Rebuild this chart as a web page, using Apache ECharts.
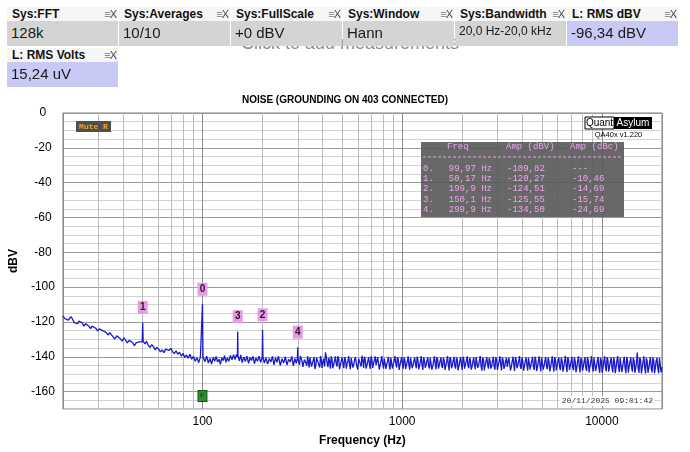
<!DOCTYPE html>
<html>
<head>
<meta charset="utf-8">
<script src="https://cdn.jsdelivr.net/npm/echarts@6/dist/echarts.min.js"></script>
<style>
  html, body { margin:0; padding:0; background:#fff; }
  #wrap { position:relative; width:690px; height:452px; overflow:hidden; font-family:"Liberation Sans", Arial, sans-serif; }
  #chart { position:absolute; left:0; top:0; width:690px; height:452px; }
  .ghost { position:absolute; left:241px; top:33px; font-size:18px; color:#8c8c8c; white-space:nowrap; z-index:2; }
  .box { position:absolute; width:111px; z-index:3; }
  .bt { height:14px; background:#f6f6f6; font-weight:bold; font-size:12px; line-height:15px; padding-left:5px; color:#111; position:relative; }
  .bt .ic { position:absolute; right:2px; top:0; font-size:11px; font-weight:normal; color:#777; letter-spacing:-1px; }
  .bt .ic b { color:#444; font-weight:normal; }
  .bv { height:25px; background:#d4d4d4; font-size:15px; line-height:24px; padding-left:4px; color:#1a1a1a; white-space:nowrap; overflow:hidden; }
  .bv.ch { background:#c9c9f6; }
  .bv.small { font-size:12px; line-height:21px; }
</style>
</head>
<body>
<div id="wrap">
  <div id="chart"></div>
  <div class="ghost">Click to add measurements</div>
</div>
<script>
// ---------- data ----------
const measTitles = ['Sys:FFT', 'Sys:Averages', 'Sys:FullScale', 'Sys:Window', 'Sys:Bandwidth', 'L: RMS dBV', 'L: RMS Volts'];
const measValues = ['128k', '10/10', '+0 dBV', 'Hann', '20,0 Hz-20,0 kHz', '-96,34 dBV', '15,24 uV'];
const measKinds  = ['sys', 'sys', 'sys', 'sys', 'sys', 'ch', 'ch'];

const chartTitle = 'NOISE (GROUNDING ON 403 CONNECTED)';
const xTickLabels = [100, 1000, 10000];

// harmonic markers (table)
const markerIds  = ['0', '1', '2', '3', '4'];
const markerFreq = [99.97, 50.17, 199.9, 150.1, 299.9];
const markerAmp  = [-109.82, -120.27, -124.51, -125.55, -134.50];
const markerDbc  = [null, -10.46, -14.69, -15.74, -24.69];

const timestamp = '20/11/2025 09:01:42';

// noise floor [Hz, dBV]
const noiseFloor = [
 [20.0,-116.5],[20.4,-118.0],[20.8,-117.2],[21.2,-119.0],[21.6,-118.2],[22.0,-117.0],[22.4,-118.6],[22.8,-120.4],
 [23.2,-119.3],[23.7,-121.0],[24.1,-119.5],[24.6,-118.8],[25.0,-120.6],[25.5,-122.4],[26.0,-121.0],[26.5,-120.2],
 [27.0,-122.5],[27.5,-123.8],[28.0,-122.4],[28.6,-121.6],[29.2,-123.6],[29.8,-125.2],[30.4,-124.0],[31.0,-123.5],
 [31.6,-125.0],[32.2,-124.2],[32.9,-126.0],[33.6,-127.5],[34.3,-126.2],[35.0,-125.8],[35.7,-128.6],[36.4,-129.8],
 [37.2,-128.0],[38.0,-127.6],[38.8,-129.6],[39.6,-131.0],[40.4,-129.2],[41.2,-130.4],[42.0,-132.0],[42.9,-130.6],
 [43.8,-129.8],[44.7,-131.8],[45.6,-133.6],[46.5,-132.0],[47.4,-133.0],[48.3,-131.4],[49.2,-130.8],[49.9,-131.5],
 [50.45,-131.0],[51.5,-132.6],[52.5,-131.2],[53.5,-133.4],[54.6,-134.6],[55.7,-133.0],[56.8,-134.2],[58.0,-136.0],
 [59.2,-134.6],[60.4,-135.8],[61.6,-137.2],[62.8,-136.0],[64.1,-137.6],[65.4,-135.6],[66.7,-134.8],[68.0,-136.4],
 [69.4,-135.2],[70.8,-137.0],[72.2,-138.2],[73.7,-136.6],[75.2,-138.6],[76.7,-137.4],[78.3,-139.6],[79.9,-138.0],
 [81.5,-140.4],[83.1,-139.0],[84.8,-140.8],[86.5,-138.6],[88.3,-141.4],[90.1,-139.8],[91.9,-142.6],[93.8,-140.6],
 [95.7,-143.4],[97.6,-140.2],[99.4,-139.6],[100.6,-140.2],[103,-142.8],[105,-139.6],[107,-143.6],[109,-141.0],
 [111,-144.2],[113,-140.4],[115,-142.6],[117,-139.8],[119,-143.0],[121,-141.4],[123,-144.4],[125,-140.6],
 [127,-142.2],[129,-139.4],[131,-143.2],[133,-140.8],[135.5,-142.6],[138,-139.2],[140.5,-141.8],[143,-138.8],
 [145.5,-141.6],[148,-138.6],[149.6,-140.0],[150.6,-139.4],[153,-142.4],[155.5,-139.0],[158,-143.4],[161,-140.2],
 [164,-142.8],[167,-139.6],[170,-143.8],[173,-140.4],[176,-142.2],[179,-139.8],[182,-144.0],[185,-140.8],
 [188.5,-142.6],[192,-139.6],[195.5,-143.2],[199.0,-140.4],[200.8,-140.0],[204,-143.6],[208,-140.6],[212,-144.2],
 [216,-141.0],[220,-143.0],[224,-139.8],[228,-144.6],[232,-140.6],[236,-143.2],[240,-139.6],[245,-145.0],
 [250,-141.2],[255,-143.6],[260,-140.0],[265,-144.8],[270,-141.4],[275,-143.0],[280,-139.8],[285,-145.2],
 [290,-141.0],[295,-143.8],[298.8,-140.6],[301,-141.2],[306,-144.6],[312,-140.4],[318,-145.8],[324,-141.6],
 [330,-143.8],[336,-139.8],[342,-146.2],[348,-141.0],[355,-144.6],[362,-140.2],[369,-145.4],[376,-141.8],
 [383,-144.0],[390,-139.6],[397,-146.4],[405,-141.2],[413,-137.4],[421,-143.8],[429,-140.6],[437,-146.8],
 [445,-141.4],[454,-144.4],[463,-139.8],[472,-145.6],[481,-141.2],[490,-144.8],[500,-140.4],[510,-146.6],
 [520,-141.6],[530,-143.8],[540,-139.6],[550,-147.2],[561,-141.8],[572,-144.6],[583,-140.2],[594,-145.8],
 [605,-141.0],[617,-144.2],[629,-139.4],[641,-146.4],[653,-141.6],[666,-144.8],[679,-140.2],[692,-147.0],
 [705,-141.4],[719,-143.6],[733,-139.8],[747,-145.8],[761,-141.2],[776,-144.6],[791,-139.6],[806,-146.8],
 [821,-140.8],[837,-144.2],[853,-140.0],[869,-147.4],[886,-141.6],[903,-144.4],[920,-139.6],[938,-146.2],
 [956,-141.4],[974,-145.0],[993,-140.2],[1012,-146.8],[1031,-141.8],[1051,-144.6],[1071,-139.8],[1091,-147.4],
 [1112,-141.2],[1133,-144.8],[1155,-140.4],[1177,-146.6],[1199,-141.8],[1222,-145.2],[1245,-139.6],[1269,-147.6],
 [1293,-142.0],[1318,-144.4],[1343,-140.2],[1369,-146.8],[1395,-141.4],[1422,-145.6],[1449,-139.8],[1477,-147.2],
 [1505,-141.6],[1534,-144.8],[1563,-140.4],[1593,-146.4],[1623,-142.0],[1654,-145.2],[1686,-139.6],[1718,-147.8],
 [1751,-141.4],[1784,-144.6],[1818,-140.0],[1853,-146.8],[1888,-141.8],[1924,-145.4],[1961,-140.2],[1998,-147.6],
 [2036,-141.6],[2075,-144.2],[2115,-139.8],[2155,-146.6],[2196,-142.0],[2238,-145.8],[2281,-140.4],[2324,-147.2],
 [2368,-141.2],[2413,-144.8],[2459,-139.6],[2506,-148.0],[2554,-141.8],[2603,-145.0],[2652,-140.2],[2703,-146.8],
 [2754,-142.2],[2807,-145.6],[2860,-140.0],[2915,-147.4],[2970,-141.4],[3027,-144.6],[3084,-139.8],[3143,-147.8],
 [3203,-142.0],[3264,-145.2],[3326,-140.6],[3389,-146.6],[3454,-141.6],[3520,-145.8],[3587,-140.0],[3655,-148.2],
 [3725,-141.8],[3796,-144.8],[3868,-139.6],[3942,-147.0],[4017,-142.2],[4094,-145.4],[4172,-140.4],[4251,-148.0],
 [4332,-141.6],[4415,-144.6],[4499,-140.0],[4585,-147.6],[4672,-142.0],[4761,-145.8],[4852,-139.8],[4944,-148.4],
 [5038,-141.4],[5134,-145.2],[5232,-140.2],[5332,-147.2],[5433,-142.2],[5537,-146.0],[5642,-139.8],[5750,-148.6],
 [5859,-141.8],[5971,-145.0],[6085,-140.4],[6201,-147.6],[6319,-142.0],[6439,-146.2],[6562,-139.4],[6687,-148.8],
 [6814,-141.6],[6944,-145.4],[7076,-140.0],[7211,-147.8],[7348,-142.4],[7488,-146.4],[7631,-139.8],[7776,-149.0],
 [7924,-141.8],[8075,-145.6],[8229,-140.2],[8386,-148.2],[8546,-142.0],[8709,-146.0],[8875,-139.6],[9044,-148.6],
 [9216,-141.4],[9392,-145.8],[9571,-140.2],[9753,-149.2],[9939,-142.2],[10128,-146.4],[10321,-139.8],[10518,-148.4],
 [10718,-141.8],[10922,-145.6],[11130,-140.4],[11342,-149.0],[11558,-142.4],[11778,-146.2],[12002,-139.6],[12231,-148.8],
 [12464,-141.6],[12701,-146.0],[12943,-140.0],[13190,-149.4],[13441,-142.0],[13697,-145.8],[13958,-140.4],[14224,-148.6],
 [14495,-142.2],[14771,-146.6],[15052,-137.6],[15339,-149.2],[15631,-141.8],[15929,-146.2],[16232,-139.8],[16541,-149.6],
 [16856,-142.4],[17177,-146.8],[17504,-140.2],[17838,-149.0],[18178,-142.0],[18524,-146.4],[18877,-140.6],[19236,-149.4],
 [19602,-141.8],[20000,-146.0]
];

// extra noise-floor readings between the points above (dense band above 300 Hz)
const noiseFloorFine = [
 [303.5,-143.0],[309,-139.6],[315,-142.4],[321,-146.0],[327,-140.8],[333,-145.2],[339,-142.6],[345,-140.4],
 [351.5,-145.6],[358.5,-142.0],[365.5,-147.0],[372.5,-140.6],[379.5,-143.4],[386.5,-146.2],[393.5,-141.8],[401,-143.2],
 [409,-145.6],[417,-140.2],[425,-146.0],[433,-142.8],[441,-139.8],[449.5,-146.6],[458.5,-142.2],[467.5,-144.2],
 [476.5,-139.6],[485.5,-147.2],[495,-142.6],[505,-143.8],[515,-140.2],[525,-146.8],[535,-142.4],[545,-144.6],
 [555.5,-140.8],[566.5,-146.2],[577.5,-141.6],[588.5,-143.4],[599.5,-147.4],[611,-140.6],[623,-145.6],[635,-142.2],
 [647,-140.0],[659.5,-146.8],[672.5,-142.6],[685.5,-144.2],[698.5,-139.8],[712,-146.4],[726,-142.0],[740,-144.8],
 [754,-140.4],[768.5,-147.4],[783.5,-142.2],[798.5,-144.0],[813.5,-141.0],[829,-147.0],[845,-142.4],[861,-144.6],
 [877.5,-140.6],[894.5,-146.8],[911.5,-142.0],[929,-143.8],[947,-140.2],[965,-147.6],[983.5,-142.6],[1002.5,-144.2],
 [1021.5,-140.4],[1041,-147.0],[1061,-142.6],[1081,-145.0],[1101.5,-140.6],[1122.5,-146.6],[1144,-142.4],[1166,-144.2],
 [1188,-140.0],[1210.5,-147.2],[1233.5,-142.8],[1257,-144.6],[1281,-140.4],[1305.5,-146.4],[1330.5,-142.2],[1356,-145.4],
 [1382,-140.6],[1408.5,-147.4],[1435.5,-142.6],[1463,-144.0],[1491,-140.2],[1519.5,-146.8],[1548.5,-142.4],[1578,-145.2],
 [1608,-140.6],[1638.5,-147.6],[1670,-142.8],[1702,-144.4],[1734.5,-140.2],[1767.5,-146.6],[1801,-142.2],[1835.5,-145.6],
 [1870.5,-140.4],[1906,-147.8],[1942.5,-142.6],[1979.5,-144.2],[2017,-140.0],[2055.5,-146.8],[2095,-142.4],[2135,-145.2],
 [2175.5,-140.6],[2217,-147.4],[2259.5,-142.8],[2302.5,-144.6],[2346,-140.2],[2390.5,-146.4],[2436,-142.2],[2482.5,-145.4],
 [2530,-140.4],[2578.5,-147.8],[2627.5,-142.6],[2677.5,-144.4],[2728.5,-140.6],[2780.5,-146.8],[2833.5,-142.4],[2887.5,-145.6],
 [2942.5,-140.2],[2998.5,-147.6],[3055.5,-142.8],[3113.5,-144.2],[3173,-140.4],[3233.5,-147.0],[3295,-142.2],[3357.5,-145.8],
 [3421.5,-140.6],[3487,-147.8],[3553.5,-142.6],[3621,-144.6],[3690,-140.2],[3760.5,-146.6],[3832,-142.4],[3905,-145.6],
 [3979.5,-140.4],[4055.5,-148.0],[4133,-142.8],[4211.5,-144.4],[4291.5,-140.6],[4373.5,-147.2],[4457,-142.2],[4542,-145.8],
 [4628.5,-140.0],[4716.5,-148.2],[4806.5,-142.6],[4898,-144.8],[4991,-140.4],[5086,-147.4],[5183,-142.4],[5282,-145.6],
 [5382.5,-140.6],[5485,-148.4],[5589.5,-142.8],[5696,-145.0],[5804.5,-140.2],[5915,-147.8],[6028,-142.2],[6143,-146.0],
 [6260,-140.6],[6379,-148.6],[6500.5,-142.6],[6624.5,-145.2],[6750.5,-140.2],[6879,-147.6],[7010,-142.8],[7143.5,-146.2],
 [7279.5,-140.4],[7418,-148.8],[7559.5,-142.4],[7703.5,-145.4],[7850,-140.6],[7999.5,-148.0],[8152,-142.6],[8307.5,-146.4],
 [8466,-140.2],[8627.5,-149.0],[8792,-142.8],[8959.5,-145.6],[9130,-140.4],[9304,-148.2],[9481.5,-142.4],[9662,-146.6],
 [9846,-140.6],[10033.5,-149.2],[10224.5,-142.6],[10419.5,-145.8],[10618,-140.2],[10820,-148.6],[11026,-142.8],[11236,-146.4],
 [11450,-140.4],[11668,-149.4],[11890,-142.2],[12116.5,-146.0],[12347.5,-140.6],[12582.5,-148.8],[12822,-142.6],[13066.5,-146.6],
 [13315.5,-140.2],[13569,-149.0],[13827.5,-142.8],[14091,-146.2],[14359.5,-140.6],[14633,-149.2],[14911.5,-142.4],[15195.5,-146.8],
 [15485,-140.4],[15780,-149.6],[16080.5,-142.6],[16386.5,-146.4],[16698.5,-140.8],[17016.5,-149.2],[17340.5,-142.8],[17671,-146.6],
 [18008,-140.6],[18351,-149.4],[18700.5,-142.2],[19056.5,-146.8],[19419,-140.8],[19801,-149.0]
];

// ---------- header (HTML text) ----------
const wrap = document.getElementById('wrap');
measTitles.forEach((t, i) => {
  const b = document.createElement('div');
  b.className = 'box';
  const left = i < 6 ? 7 + 112 * i : 7;
  const top = i < 6 ? 7 : 48;
  b.style.left = left + 'px';
  b.style.top = top + 'px';
  const small = measValues[i].length > 12 ? ' small' : '';
  b.innerHTML = '<div class="bt">' + t + '<span class="ic">&#8801;<b>X</b></span></div>' +
                '<div class="bv ' + measKinds[i] + small + '">' + measValues[i] + '</div>';
  wrap.appendChild(b);
});

// ---------- chart ----------
const spectrum = noiseFloor.concat(noiseFloorFine, markerFreq.map((f, i) => [f, markerAmp[i]]))
  .sort((a, b) => a[0] - b[0]);

const minorFreqs = [];
[10, 100, 1000].forEach(dec => { for (let k = 2; k <= 9; k++) { const f = k * dec; if (f > 20 && f < 20000) minorFreqs.push(f); } });

const fmt = (v, d) => v.toFixed(d).replace('.', ',');
const fmtHz = v => v.toPrecision(4).replace('.', ',') + ' Hz';

const pink = '#eaa8ea';
const mono = '"Liberation Mono", "DejaVu Sans Mono", monospace';
const tFont = '9px ' + mono;

const tableEls = [
  { type: 'rect', z: 10, shape: { x: 421, y: 142, width: 203, height: 75 }, style: { fill: '#585858', opacity: 0.9 } },
  { type: 'text', z: 12, x: 447, y: 147, style: { text: 'Freq', fill: pink, font: tFont, verticalAlign: 'middle' } },
  { type: 'text', z: 12, x: 506, y: 147, style: { text: 'Amp (dBV)', fill: pink, font: tFont, verticalAlign: 'middle' } },
  { type: 'text', z: 12, x: 570, y: 147, style: { text: 'Amp (dBc)', fill: pink, font: tFont, verticalAlign: 'middle' } },
  { type: 'line', z: 12, shape: { x1: 423, y1: 157, x2: 622, y2: 157 }, style: { stroke: pink, lineWidth: 1, lineDash: [3, 2] } }
];
markerIds.forEach((id, i) => {
  const y = 168.5 + i * 10.3;
  tableEls.push({ type: 'text', z: 12, x: 423, y: y, style: { text: id + '.', fill: pink, font: tFont, verticalAlign: 'middle' } });
  tableEls.push({ type: 'text', z: 12, x: 492, y: y, style: { text: fmtHz(markerFreq[i]), fill: pink, font: tFont, align: 'right', verticalAlign: 'middle' } });
  tableEls.push({ type: 'text', z: 12, x: 507, y: y, style: { text: fmt(markerAmp[i], 2), fill: pink, font: tFont, verticalAlign: 'middle' } });
  tableEls.push({ type: 'text', z: 12, x: 572, y: y, style: { text: markerDbc[i] === null ? '---' : fmt(markerDbc[i], 2), fill: pink, font: tFont, verticalAlign: 'middle' } });
});

const markPoints = markerIds.map((id, i) => ({
  coord: [markerFreq[i], markerAmp[i]],
  symbol: 'rect',
  symbolSize: [10, 13],
  symbolOffset: [0, -15],
  itemStyle: { color: '#e59ce5' },
  label: { show: true, position: 'inside', formatter: id, color: '#2a102a', fontSize: 10, fontWeight: 'bold', fontFamily: 'Liberation Sans, Arial' }
}));
markPoints.push({
  coord: [markerFreq[0], -162.5],
  symbol: 'rect',
  symbolSize: [9, 11],
  itemStyle: { color: '#2f8f2f', borderColor: '#134d13', borderWidth: 1 },
  label: { show: true, position: 'inside', formatter: 'F', color: '#0c3a0c', fontSize: 8, fontFamily: 'Liberation Sans, Arial' }
});

const chart = echarts.init(document.getElementById('chart'), null, { renderer: 'canvas' });
chart.setOption({
  animation: false,
  backgroundColor: '#fff',
  title: {
    text: chartTitle, left: 'center', top: 90,
    textStyle: { fontSize: 10, fontWeight: 'bold', color: '#000', fontFamily: 'Liberation Sans, Arial' }
  },
  grid: { left: 57, right: 28, top: 113, bottom: 43, show: true, borderColor: '#808080', borderWidth: 1, backgroundColor: '#fff' },
  xAxis: {
    type: 'log', logBase: 10, min: 20, max: 20000,
    axisLine: { show: false }, axisTick: { show: false },
    axisLabel: {
      color: '#000', fontSize: 12, margin: 7, fontFamily: 'Liberation Sans, Arial',
      formatter: v => { const r = Math.round(v); return xTickLabels.indexOf(r) >= 0 ? String(r) : ''; }
    },
    splitLine: { show: true, lineStyle: { color: '#8c8c8c', width: 1 } },
    name: 'Frequency (Hz)', nameLocation: 'middle', nameGap: 26,
    nameTextStyle: { fontWeight: 'bold', fontSize: 12, color: '#000', fontFamily: 'Liberation Sans, Arial' }
  },
  yAxis: {
    type: 'value', min: -170, max: 0, interval: 5,
    axisLine: { show: false }, axisTick: { show: false },
    axisLabel: {
      color: '#000', fontSize: 12, margin: 20, align: 'center', fontFamily: 'Liberation Sans, Arial',
      formatter: v => (v % 20 === 0 ? String(v) : '')
    },
    splitLine: { show: true, lineStyle: { color: ['#d2d2d2', '#d2d2d2', '#9a9a9a', '#d2d2d2'], width: 1 } },
    name: 'dBV', nameLocation: 'middle', nameGap: 38, nameRotate: 90,
    nameTextStyle: { fontWeight: 'bold', fontSize: 12, color: '#000', fontFamily: 'Liberation Sans, Arial' }
  },
  series: [
    {
      name: 'grid', type: 'line', data: [], z: 1, silent: true,
      markLine: {
        z: 1, silent: true, symbol: ['none', 'none'], label: { show: false }, animation: false,
        lineStyle: { color: '#bdbdbd', width: 1, type: 'solid' },
        emphasis: { disabled: true },
        data: minorFreqs.map(f => ({ xAxis: f }))
      }
    },
    {
      name: 'L', type: 'line', data: spectrum, z: 3, symbol: 'none', showSymbol: false, sampling: null,
      lineStyle: { color: '#1a1acc', width: 1.3 },
      markPoint: { z: 5, silent: true, animation: false, data: markPoints }
    }
  ],
  graphic: [
    { type: 'rect', shape: { x: 76, y: 121, width: 35, height: 11 }, style: { fill: '#4f4f4f' }, z: 10 },
    { type: 'text', x: 93.5, y: 126.5, style: { text: 'Mute R', fill: '#f4a62a', font: 'bold 8px ' + mono, align: 'center', verticalAlign: 'middle' }, z: 11 },
    { type: 'rect', shape: { x: 585, y: 117, width: 29, height: 12 }, style: { fill: '#fff', stroke: '#000', lineWidth: 1 }, z: 10 },
    { type: 'text', x: 599.5, y: 123.5, style: { text: 'Quant', fill: '#000', font: '10px "Liberation Sans", Arial', align: 'center', verticalAlign: 'middle' }, z: 11 },
    { type: 'rect', shape: { x: 614, y: 117, width: 38, height: 12 }, style: { fill: '#000' }, z: 10 },
    { type: 'text', x: 633, y: 123.5, style: { text: 'Asylum', fill: '#fff', font: '10px "Liberation Sans", Arial', align: 'center', verticalAlign: 'middle' }, z: 11 },
    { type: 'text', x: 618.5, y: 134.5, style: { text: 'QA40x v1.220', fill: '#000', font: '7.5px "Liberation Sans", Arial', align: 'center', verticalAlign: 'middle' }, z: 11 },
    { type: 'group', children: tableEls },
    { type: 'text', x: 655, y: 401, z: 11, style: { text: timestamp, fill: '#333', font: '8px ' + mono, align: 'right', verticalAlign: 'middle', backgroundColor: '#fff', padding: [1, 2] } }
  ]
});
</script>
</body>
</html>
